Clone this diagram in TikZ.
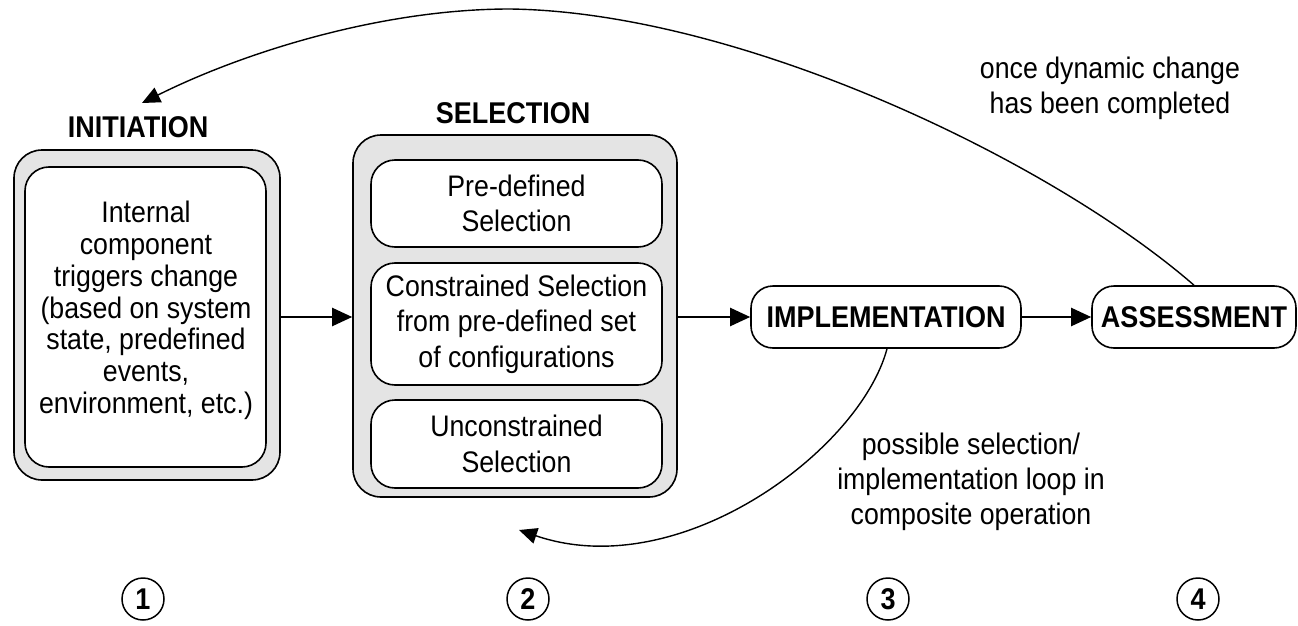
\documentclass[tikz,border=0pt]{standalone}
\usepackage{fontspec}
\setmainfont{Liberation Sans}[FakeStretch=0.9]
\usetikzlibrary{arrows.meta}
\definecolor{boxgray}{HTML}{E4E4E4}
\begin{document}
\begin{tikzpicture}[x=1pt,y=-1pt,
  outerbox/.style={draw, rectangle, line width=1.6pt, fill=boxgray, rounded corners=28pt, inner sep=0pt},
  innerbox/.style={draw, rectangle, line width=1.6pt, fill=white, rounded corners=24pt, align=center, inner sep=0pt, font=\fontsize{29.7}{35.5}\selectfont},
  stagebox/.style={draw, rectangle, line width=1.6pt, fill=white, rounded corners=22pt, inner sep=0pt, minimum height=62pt, font=\bfseries\fontsize{30}{32}\selectfont},
  title/.style={font=\bfseries\fontsize{30}{32}\selectfont, inner sep=0pt},
  num/.style={draw, circle, line width=1.5pt, minimum size=42pt, inner sep=0pt, font=\bfseries\fontsize{30}{32}\selectfont},
  flow/.style={line width=2.2pt, -{Triangle[length=20pt,width=18pt]}},
  back/.style={line width=1.4pt, -{Triangle[length=18pt,width=16pt]}},
  note/.style={align=center, inner sep=0pt, font=\fontsize{29.7}{35}\selectfont}]
\fill[white] (0,0) rectangle (1298,626);
\useasboundingbox (0,0) rectangle (1298,626);

% INITIATION
\node[outerbox, minimum width=266pt, minimum height=330pt] (initOuter) at (147,315) {};
\node[innerbox, minimum width=241pt, minimum height=300pt] (initInner) at (145.5,317) {};
\node[note, font=\fontsize{29.7}{31.8}\selectfont] (initText) at (146,310.5) {Internal\\component\\triggers change\\(based on system\\state, predefined\\events,\\environment, etc.)};
\node[title] (initTitle) at (138,127) {INITIATION};

% SELECTION
\node[outerbox, minimum width=324pt, minimum height=362pt] (selOuter) at (515,316) {};
\node[innerbox, minimum width=291pt, minimum height=87pt] (sel1) at (516.5,203.5) {Pre-defined\\Selection};
\node[innerbox, minimum width=291pt, minimum height=122pt] (sel2) at (516.5,324) {Constrained Selection\\from pre-defined set\\of configurations};
\node[innerbox, minimum width=291pt, minimum height=88pt] (sel3) at (516.5,444) {Unconstrained\\Selection};
\node[title] (selTitle) at (513,113) {SELECTION};

% IMPLEMENTATION / ASSESSMENT
\node[stagebox, minimum width=270pt] (impl) at (886,317) {IMPLEMENTATION};
\node[stagebox, minimum width=204pt] (assess) at (1194,317) {ASSESSMENT};

% straight connectors
\draw[flow] (initOuter.east |- impl.west) -- (selOuter.west |- impl.west);
\draw[flow] (selOuter.east |- impl.west) -- (impl.west);
\draw[flow] (impl.east) -- (assess.west);

% feedback arcs
\coordinate (initTip) at (142,103);
\coordinate (selTip) at (519,530);
\draw[back] (assess.north) .. controls (1050,160) and (740,12) .. (510,9)
            .. controls (380,9) and (242,53) .. (initTip);
\draw[back] ([xshift=1pt]impl.south) .. controls (860,450) and (680,585) .. (selTip);

% notes
\node[note] (noteTop) at (1110,88.5) {once dynamic change\\has been completed};
\node[note] (noteBot) at (971,482) {possible selection/\\implementation loop in\\composite operation};

% numbers
\node[num] (n1) at (143,599) {1};
\node[num] (n2) at (528,599) {2};
\node[num] (n3) at (888,599) {3};
\node[num] (n4) at (1198,599) {4};
\end{tikzpicture}
\end{document}
